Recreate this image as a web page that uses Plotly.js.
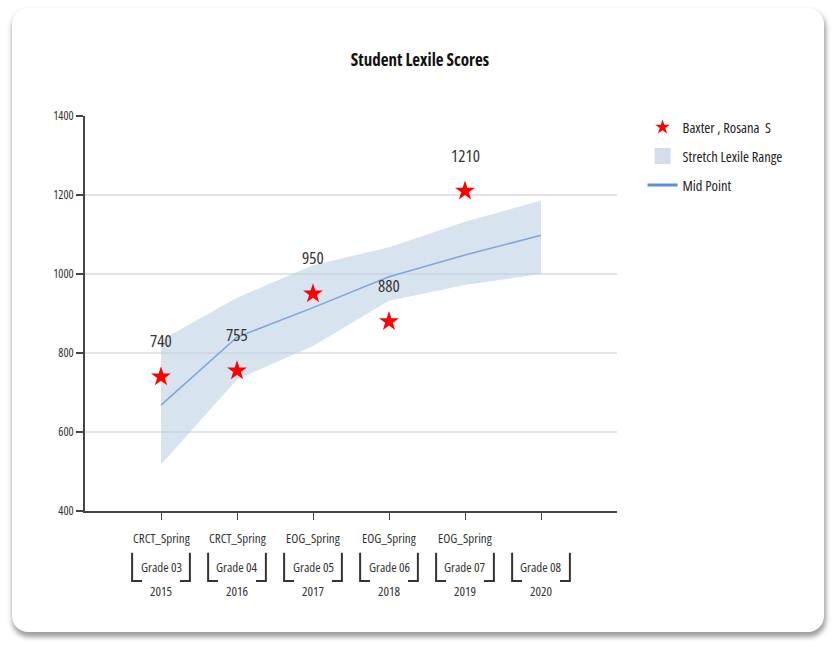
<!DOCTYPE html>
<html>
<head>
<meta charset="utf-8">
<script src="https://cdn.plot.ly/plotly-3.0.1.min.js"></script>
<style>
  html, body { margin:0; padding:0; background:#fff; width:834px; height:649px; overflow:hidden; }
  #card { position:absolute; left:12px; top:8px; width:812px; height:624px; background:#fff;
          border-radius:16px; box-shadow: 1px 4px 5px 1px rgba(0,0,0,0.38); }
  #chart { position:absolute; left:0; top:0; width:834px; height:649px; }
  svg text { font-stretch: condensed; }
</style>
</head>
<body>
<div id="card"></div>
<div id="chart"></div>
<script>
const categories = ["Grade 03", "Grade 04", "Grade 05", "Grade 06", "Grade 07", "Grade 08"];
const testNames  = ["CRCT_Spring", "CRCT_Spring", "EOG_Spring", "EOG_Spring", "EOG_Spring", ""];
const years      = ["2015", "2016", "2017", "2018", "2019", "2020"];
const scoreCats  = ["Grade 03", "Grade 04", "Grade 05", "Grade 06", "Grade 07"];
const scores     = [740, 755, 950, 880, 1210];
const rangeUpper = [832, 940, 1022, 1068, 1132, 1186];
const rangeLower = [518, 733, 818, 932, 972, 1000];
const midPoint   = [668, 840, 915, 993, 1048, 1098];
const yTicks     = [400, 600, 800, 1000, 1200, 1400];

const FONT = "'Open Sans', 'Roboto Condensed', sans-serif";

const traces = [
  { x: categories, y: rangeUpper, type: 'scatter', mode: 'lines', line: {width: 0, color: 'rgba(0,0,0,0)'},
    showlegend: false, hoverinfo: 'skip' },
  { x: categories, y: rangeLower, type: 'scatter', mode: 'lines', line: {width: 0, color: 'rgba(0,0,0,0)'},
    fill: 'tonexty', fillcolor: 'rgba(190,208,230,0.6)', showlegend: false },
  { x: categories, y: midPoint, type: 'scatter', mode: 'lines', line: {width: 1.5, color: '#7ea6d8'},
    showlegend: false },
  { x: scoreCats, y: scores, type: 'scatter', mode: 'markers',
    marker: {symbol: 'star', size: 15, color: '#ff0000', line: {width: 0}}, showlegend: false },
  // legend-only entries
  { x: [null], y: [null], type: 'scatter', mode: 'markers', name: 'Baxter , Rosana  S',
    marker: {symbol: 'star', size: 11, color: '#ff0000', line: {width: 0}}, legendgroup: 'a' },
  { x: [null], y: [null], type: 'scatter', mode: 'markers', name: 'Stretch Lexile Range',
    marker: {symbol: 'square', size: 21, color: '#d3deeb', line: {width: 0}}, legendgroup: 'b' },
  { x: [null], y: [null], type: 'scatter', mode: 'lines', name: 'Mid Point',
    line: {width: 3, color: '#5e90d4'}, legendgroup: 'c' }
];

const annotations = [];
scoreCats.forEach((c, i) => {
  annotations.push({ x: c, y: scores[i], xref: 'x', yref: 'y', text: String(scores[i]), showarrow: false,
    yshift: 36, font: {family: FONT, size: 17, color: '#333'} });
});
const lineY = [-0.068, -0.142, -0.203];
categories.forEach((c, i) => {
  const rows = [testNames[i], c, years[i]];
  rows.forEach((t, k) => {
    if (!t) return;
    annotations.push({ x: i, y: lineY[k], xref: 'x', yref: 'paper', text: t, showarrow: false,
      yanchor: 'middle', font: {family: FONT, size: 13, color: '#333'} });
  });
});

const shapes = [];
categories.forEach((c, i) => {
  const yTop = -0.106, yBot = -0.177;
  const ln = {color: '#333', width: 2};
  shapes.push({type: 'path', xref: 'x', yref: 'paper',
    path: `M ${i-0.38} ${yTop} L ${i-0.38} ${yBot} L ${i-0.25} ${yBot}`, line: ln});
  shapes.push({type: 'path', xref: 'x', yref: 'paper',
    path: `M ${i+0.38} ${yTop} L ${i+0.38} ${yBot} L ${i+0.25} ${yBot}`, line: ln});
});

const layout = {
  width: 834, height: 649,
  paper_bgcolor: 'rgba(0,0,0,0)', plot_bgcolor: 'rgba(0,0,0,0)',
  margin: {l: 85, r: 217, t: 116, b: 138},
  title: {text: '<b>Student Lexile Scores</b>', x: 0.5036, xanchor: 'center', y: 0.908, yanchor: 'middle',
    font: {family: FONT, size: 17, color: '#111'}},
  font: {family: FONT, color: '#333'},
  xaxis: {type: 'category', range: [-1, 6], showgrid: false, zeroline: false,
    showline: true, linecolor: '#444', linewidth: 2, ticks: 'outside', ticklen: 7, tickcolor: '#444',
    tickwidth: 1, showticklabels: false, fixedrange: true},
  yaxis: {range: [400, 1400], tickvals: yTicks, showgrid: true, gridcolor: '#e4e4e4', gridwidth: 2,
    zeroline: false, showline: true, linecolor: '#444', linewidth: 2, ticks: 'outside', ticklen: 7,
    tickcolor: '#444', tickwidth: 2, tickfont: {family: FONT, size: 12, color: '#333'}, fixedrange: true},
  legend: {x: 1.048, y: 1.012, xanchor: 'left', yanchor: 'top', traceorder: 'grouped',
    font: {family: FONT, size: 14.5, color: '#222'}, bgcolor: 'rgba(0,0,0,0)', itemwidth: 30, tracegroupgap: 7},
  annotations: annotations,
  shapes: shapes,
  showlegend: true
};

Plotly.newPlot('chart', traces, layout, {displayModeBar: false, staticPlot: true});
</script>
</body>
</html>
